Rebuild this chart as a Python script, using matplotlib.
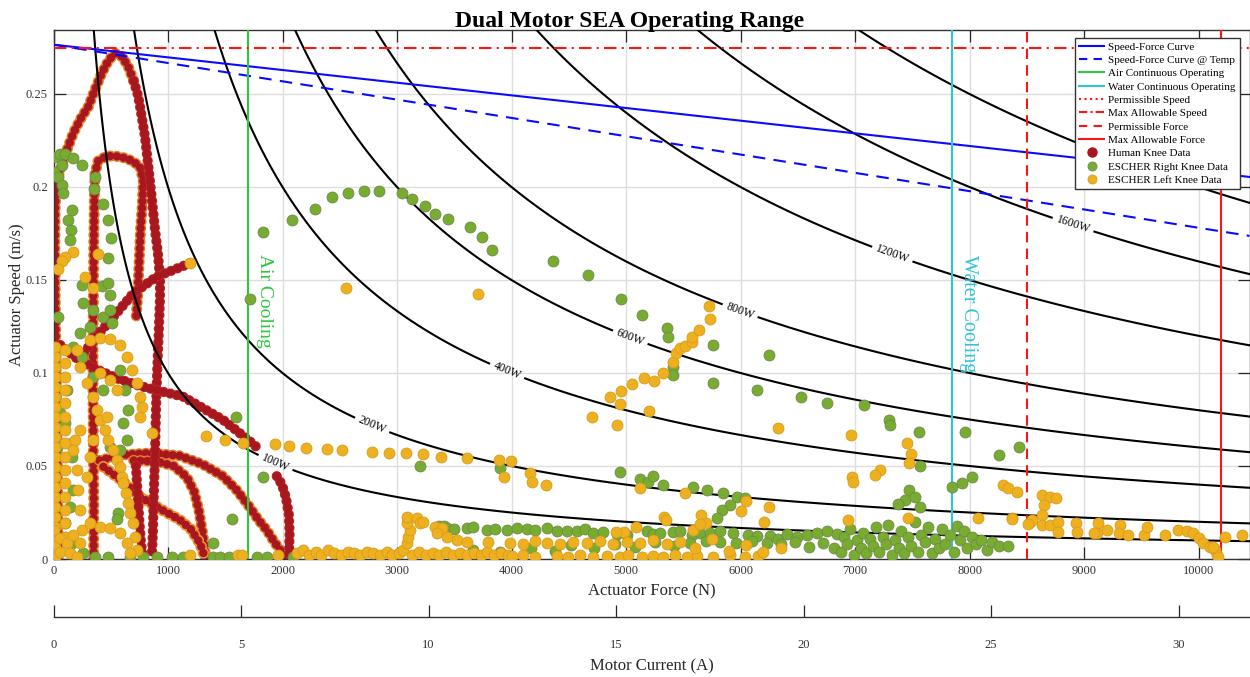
import numpy as np
import matplotlib
matplotlib.use("Agg")
import matplotlib.pyplot as plt
import matplotlib.patheffects as pe
from matplotlib.lines import Line2D

plt.rcParams['font.family'] = ['Liberation Serif', 'DejaVu Serif']

# ---------------------------------------------------------------- limits
force_max = 10445          # N
speed_max = 0.2844         # m/s
current_max = 31.89        # A

# ---------------------------------------------------------------- actuator limits
speed_force_curve_F = [0, 10445]
speed_force_curve_v = [0.2765, 0.2054]
speed_force_temp_F = [0, 10445]
speed_force_temp_v = [0.2765, 0.1737]
permissible_speed = 0.300          # above the plotted speed range
max_allowable_speed = 0.2747
air_cooling_force = 1700
water_cooling_force = 7850
permissible_force = 8500
max_allowable_force = 10200

power_levels = [100, 200, 400, 600, 800, 1200, 1600, 2000]
power_label_spots = [(1937, 0.0516), (2782, 0.0719), (3961, 0.1010), (5035, 0.1188),
                     (5996, 0.1334), (7325, 0.1638), (8904, 0.1797)]

current_ticks = [0, 5, 10, 15, 20, 25, 30]
force_ticks = [0, 1000, 2000, 3000, 4000, 5000, 6000, 7000, 8000, 9000, 10000]
speed_ticks = [0, 0.05, 0.1, 0.15, 0.2, 0.25]
speed_tick_labels = ['0', '0.05', '0.1', '0.15', '0.2', '0.25']

# ---------------------------------------------------------------- human knee trajectories (F [N], v [m/s])
human_outer_rise = [(40, 0.0), (38, 0.02), (33, 0.05), (28, 0.08), (22, 0.11), (15, 0.14), (12, 0.17),
                    (15, 0.19), (30, 0.203), (58, 0.209), (100, 0.217), (173, 0.229), (240, 0.237),
                    (304, 0.2432), (360, 0.252), (421, 0.2611), (480, 0.268), (537, 0.2719),
                    (600, 0.270), (653, 0.2647), (700, 0.257)]
human_outer_fall = [(700, 0.257), (741, 0.2486), (770, 0.238), (799, 0.227), (830, 0.21), (857, 0.1948),
                    (885, 0.178), (915, 0.1625), (930, 0.15), (930, 0.14), (918, 0.12), (905, 0.10),
                    (895, 0.08), (886, 0.055), (876, 0.035), (868, 0.015), (860, 0.002)]
human_inner_loop = [(350, 0.0), (352, 0.03), (348, 0.06), (345, 0.09), (345, 0.12), (348, 0.139),
                    (352, 0.17), (357, 0.195), (362, 0.207), (390, 0.214), (465, 0.2167), (550, 0.2165),
                    (639, 0.2154), (700, 0.2135), (755, 0.2109), (784, 0.2038), (775, 0.19),
                    (760, 0.177), (748, 0.16), (735, 0.141), (722, 0.13)]
human_rising_diag = [(230, 0.108), (380, 0.120), (520, 0.130), (697, 0.1428), (901, 0.1518),
                     (1047, 0.1554), (1192, 0.159)]
human_descent = [(60, 0.115), (200, 0.108), (377, 0.102), (560, 0.097), (755, 0.093), (950, 0.090),
                 (1131, 0.0873), (1280, 0.082), (1483, 0.0747), (1620, 0.068), (1720, 0.063),
                 (1803, 0.0586)]
human_arc_long = [(400, 0.053), (600, 0.056), (850, 0.057), (1100, 0.0555), (1300, 0.051),
                  (1480, 0.0445), (1600, 0.037), (1700, 0.029), (1790, 0.021), (1862, 0.0156),
                  (1930, 0.009), (1990, 0.004), (2037, 0.0)]
human_arc_short = [(700, 0.053), (900, 0.0525), (1050, 0.050), (1165, 0.044), (1230, 0.036),
                   (1270, 0.026), (1300, 0.015), (1320, 0.006), (1330, 0.0)]
human_slope = [(435, 0.0496), (600, 0.042), (755, 0.0335), (930, 0.027), (1105, 0.021),
               (1200, 0.016), (1280, 0.0084), (1310, 0.003)]
human_hook = [(1950, 0.0445), (1995, 0.040), (2030, 0.033), (2055, 0.024), (2062, 0.014),
              (2058, 0.005), (2050, 0.0)]
human_drop = [(720, 0.050), (735, 0.035), (750, 0.020), (765, 0.008), (785, 0.0)]

# ---------------------------------------------------------------- ESCHER right knee (F [N], v [m/s])
right_knee_upper = [(1716, 0.140), (1830, 0.1758), (2083, 0.182), (2280, 0.188), (2430, 0.1948),
                    (2570, 0.197), (2710, 0.198), (2840, 0.198), (3040, 0.197), (3135, 0.1935),
                    (3245, 0.190), (3330, 0.1853), (3445, 0.1828), (3640, 0.1785), (3745, 0.1731),
                    (3830, 0.166), (4365, 0.160), (4670, 0.1527), (4955, 0.1398), (5140, 0.1312),
                    (5360, 0.1242), (5365, 0.1194), (5760, 0.115), (5410, 0.1032), (5410, 0.099),
                    (5760, 0.0946), (6250, 0.1097), (6140, 0.0909), (6530, 0.0871), (6755, 0.0839),
                    (7080, 0.0828), (7295, 0.0747), (7305, 0.072), (7560, 0.0683), (7570, 0.050),
                    (7960, 0.0683), (8260, 0.056), (8430, 0.0602), (7850, 0.0387), (7935, 0.041),
                    (8020, 0.0441), (7470, 0.037), (7435, 0.0317), (7375, 0.0296), (7525, 0.0333),
                    (7570, 0.028)]
right_knee_mid = [(1594, 0.0763), (1830, 0.044), (1558, 0.0215), (1396, 0.0086), (3200, 0.050),
                  (3900, 0.049), (4945, 0.0467), (5125, 0.043), (5195, 0.0414), (5235, 0.0446),
                  (5320, 0.0398), (5585, 0.0387), (5705, 0.0371), (5845, 0.0355), (5965, 0.0333),
                  (5910, 0.029), (5840, 0.0263), (5795, 0.022), (6040, 0.033)]
right_knee_left = [(13, 0.2163), (57, 0.218), (100, 0.2177), (167, 0.2154), (246, 0.2118), (0, 0.208),
                   (72, 0.2118), (42, 0.2055), (72, 0.201), (86, 0.1966), (159, 0.1876), (130, 0.1823),
                   (150, 0.1769), (144, 0.1715), (362, 0.2055), (357, 0.1987), (430, 0.1907),
                   (479, 0.1823), (500, 0.1724), (473, 0.162), (246, 0.1473), (421, 0.1468),
                   (479, 0.1482), (494, 0.1419), (261, 0.1375), (348, 0.1339), (435, 0.1303),
                   (493, 0.1339), (508, 0.1267), (319, 0.1249), (231, 0.1213), (173, 0.1142),
                   (246, 0.1088), (348, 0.098), (435, 0.0909), (581, 0.1016), (624, 0.0909),
                   (653, 0.0801), (610, 0.0729), (639, 0.064), (581, 0.0586), (493, 0.0604),
                   (115, 0.0909), (100, 0.0729), (159, 0.0622), (159, 0.055), (173, 0.0371),
                   (144, 0.0281), (100, 0.0192), (159, 0.0084), (261, 0.003), (362, 0.0013),
                   (479, 0.0013), (566, 0.0246), (668, 0.0013), (785, 0.0013), (57, 0.0783),
                   (553, 0.0215), (40, 0.13), (30, 0.06)]
right_knee_floor = [(905, 0.0013), (1035, 0.0013), (1131, 0.0013), (1393, 0.0013), (1454, 0.0013),
                    (1530, 0.0013), (1777, 0.0013), (1865, 0.0013), (2092, 0.0013)]
right_knee_band = [(3370, 0.0175), (3410, 0.0178), (3440, 0.0168), (3500, 0.0160),
                   (3609, 0.0165), (3667, 0.017), (3783, 0.0158), (3856, 0.0162), (3958, 0.0155),
                   (4045, 0.0165), (4133, 0.0160), (4205, 0.0158), (4307, 0.0166), (4395, 0.0152),
                   (4482, 0.0148), (4569, 0.0150), (4642, 0.0160), (4715, 0.0140), (4802, 0.0143),
                   (4919, 0.0135), (5006, 0.0130), (5181, 0.0150), (5238, 0.0132), (5297, 0.0142),
                   (5413, 0.0145), (5472, 0.0150), (5574, 0.0128), (5646, 0.0138), (5734, 0.0142),
                   (5821, 0.0150), (5937, 0.0140), (6068, 0.0130), (6142, 0.0125), (6258, 0.0125),
                   (6330, 0.0110), (6404, 0.0135), (6491, 0.0120), (6578, 0.0128), (6666, 0.0140),
                   (6753, 0.0150), (6840, 0.0135),
                   (3660, 0.005), (3900, 0.004), (4170, 0.006), (4380, 0.0045), (4520, 0.0075),
                   (4720, 0.006), (4900, 0.0082), (5080, 0.0065), (5250, 0.009), (5420, 0.007),
                   (5560, 0.0085), (5700, 0.0095), (5820, 0.009), (5960, 0.0088), (6100, 0.0095),
                   (6230, 0.0085), (6350, 0.0078), (6480, 0.0090), (6600, 0.0065), (6720, 0.0088),
                   (6820, 0.006)]
right_knee_cluster = [(6880, 0.004), (6900, 0.012), (6930, 0.008), (6960, 0.016), (6990, 0.002),
                      (7020, 0.010), (7050, 0.006), (7070, 0.014), (7100, 0.003), (7130, 0.011),
                      (7160, 0.007), (7180, 0.017), (7210, 0.004), (7240, 0.012), (7270, 0.008),
                      (7290, 0.0185), (7320, 0.002), (7350, 0.010), (7380, 0.006), (7400, 0.015),
                      (7430, 0.003), (7460, 0.012), (7490, 0.007), (7520, 0.020), (7550, 0.004),
                      (7580, 0.013), (7610, 0.009), (7640, 0.017), (7670, 0.003), (7700, 0.011),
                      (7730, 0.006), (7760, 0.016), (7790, 0.008), (7830, 0.013), (7860, 0.004),
                      (7890, 0.018), (7920, 0.010), (7950, 0.015), (7980, 0.006), (8020, 0.012),
                      (8060, 0.008), (8100, 0.010), (8150, 0.005), (8200, 0.009), (8260, 0.007),
                      (8335, 0.007)]

# ---------------------------------------------------------------- ESCHER left knee (F [N], v [m/s])
left_knee_row = [(1332, 0.066), (1498, 0.064), (1655, 0.0625), (1935, 0.0618), (2060, 0.0608),
                 (2205, 0.0597), (2390, 0.059), (2520, 0.0586), (2780, 0.0575), (2930, 0.057),
                 (3080, 0.057), (3230, 0.0565), (3385, 0.055), (3615, 0.0543), (3890, 0.0532),
                 (3995, 0.0527), (4160, 0.046), (3935, 0.0441), (4180, 0.0414), (4300, 0.0398),
                 (858, 0.068)]
left_knee_upper = [(2555, 0.1457), (3705, 0.1425), (1192, 0.159), (173, 0.1652), (100, 0.1625),
                   (72, 0.160), (42, 0.1557), (391, 0.164), (275, 0.1514), (348, 0.1455)]
left_knee_diag = [(4705, 0.0763), (4925, 0.072), (4950, 0.0833), (4860, 0.0871), (4960, 0.0903),
                  (5055, 0.094), (5160, 0.0973), (5245, 0.0957), (5325, 0.100), (5410, 0.1059),
                  (5440, 0.1108), (5475, 0.1134), (5515, 0.1145), (5575, 0.1167), (5575, 0.1194),
                  (5640, 0.1231), (5735, 0.129), (5725, 0.136), (5200, 0.0796), (6330, 0.0704)]
left_knee_mid = [(6250, 0.028), (6205, 0.020), (6050, 0.031), (6000, 0.026), (5655, 0.0237),
                 (5700, 0.0193), (5330, 0.0226), (5350, 0.021), (5515, 0.0355), (5125, 0.038),
                 (5085, 0.0172), (4985, 0.0145), (4915, 0.0145), (5585, 0.0156), (5650, 0.019)]
left_knee_right = [(6965, 0.0667), (7450, 0.0624), (7490, 0.0565), (7475, 0.0516), (7220, 0.048),
                   (7175, 0.045), (6975, 0.0441), (6985, 0.0414), (6940, 0.021), (7465, 0.022),
                   (8075, 0.022), (8295, 0.0398), (8335, 0.038), (8415, 0.036), (8375, 0.022),
                   (8530, 0.020), (8630, 0.0344), (8700, 0.0333), (8755, 0.0328), (8650, 0.029),
                   (8630, 0.0237), (8630, 0.0183), (8700, 0.0183), (8770, 0.020), (8770, 0.0145),
                   (8930, 0.0194), (8940, 0.0145), (9120, 0.0194), (9110, 0.014), (9200, 0.0156),
                   (9315, 0.0183), (9305, 0.014), (9385, 0.0129), (9525, 0.0129), (9550, 0.0172),
                   (9710, 0.0129), (9820, 0.0156), (9900, 0.0151), (9955, 0.014), (10000, 0.0113),
                   (10040, 0.0086), (10100, 0.0065), (10145, 0.0048), (10160, 0.0022),
                   (10170, 0.001), (10130, 0.0065), (10230, 0.012), (10380, 0.0129), (9090, 0.014),
                   (8545, 0.021), (8510, 0.0188), (8370, 0.0215)]
left_knee_floor = [(1192, 0.002), (1612, 0.002), (1646, 0.002), (1961, 0.002),
                   (2130, 0.003), (2180, 0.005), (2230, 0.002), (2290, 0.004), (2340, 0.002),
                   (2400, 0.005), (2450, 0.003), (2510, 0.002), (2570, 0.004), (2620, 0.003),
                   (2680, 0.002), (2740, 0.004), (2790, 0.003), (2850, 0.002), (2910, 0.004),
                   (2960, 0.002), (3020, 0.003), (3130, 0.002), (3190, 0.004), (3250, 0.002),
                   (3310, 0.003), (3370, 0.002), (3430, 0.004), (3490, 0.002), (3550, 0.003),
                   (3610, 0.002), (3670, 0.003), (3730, 0.002), (3790, 0.004), (3850, 0.002),
                   (3910, 0.003), (3970, 0.002),
                   (3055, 0.0048), (3085, 0.0084), (3099, 0.012), (3114, 0.0156), (3085, 0.0192),
                   (3085, 0.0228), (3172, 0.0219), (3201, 0.0192), (3230, 0.020), (3332, 0.0174),
                   (3390, 0.0165), (3347, 0.0138), (3434, 0.012), (3521, 0.0102), (3609, 0.0093),
                   (3798, 0.0089), (3987, 0.0084),
                   (4002, 0.0015), (4104, 0.0020), (4205, 0.0013), (4395, 0.0018), (4497, 0.0013),
                   (4599, 0.0020), (4715, 0.0013), (4831, 0.0018), (4948, 0.0013), (5020, 0.0020),
                   (5137, 0.0013), (5238, 0.0018), (5326, 0.0013), (5428, 0.0020), (5530, 0.0013),
                   (5617, 0.0018), (5763, 0.0013), (5908, 0.0020), (6039, 0.0013), (6156, 0.0018),
                   (4104, 0.0082), (4205, 0.0095), (4307, 0.0088), (4424, 0.0080), (4540, 0.0092),
                   (4657, 0.0085), (4773, 0.0095), (4890, 0.0080), (5006, 0.0090), (5122, 0.0086),
                   (5238, 0.0100), (5355, 0.0083), (5472, 0.0092),
                   (5600, 0.006), (5750, 0.0105), (5900, 0.0045), (6050, 0.0075), (6200, 0.004),
                   (6350, 0.006)]
left_knee_left = [(13, 0.1142), (13, 0.1088), (13, 0.1034), (13, 0.098), (13, 0.0926), (13, 0.0873),
                  (13, 0.0819), (13, 0.0765), (13, 0.0711), (13, 0.0658), (13, 0.0604), (13, 0.055),
                  (13, 0.0496), (13, 0.0443), (13, 0.0389), (13, 0.0335), (13, 0.0281), (13, 0.0228),
                  (13, 0.0174), (13, 0.012), (13, 0.0066), (13, 0.0013),
                  (100, 0.1124), (100, 0.1052), (100, 0.098), (100, 0.0909), (100, 0.0837),
                  (100, 0.0765), (100, 0.0694), (100, 0.0622), (100, 0.055), (100, 0.0478),
                  (100, 0.0407), (100, 0.0335), (100, 0.0263), (100, 0.0192), (100, 0.012),
                  (319, 0.1177), (406, 0.1186), (493, 0.1181), (581, 0.1151), (639, 0.1088),
                  (683, 0.1016), (726, 0.0944), (755, 0.0873), (770, 0.0819), (755, 0.0765),
                  (202, 0.1124), (231, 0.1034), (290, 0.0944), (348, 0.0873), (377, 0.0801),
                  (406, 0.0747), (450, 0.0694), (479, 0.064), (523, 0.0586), (552, 0.0532),
                  (581, 0.0496), (596, 0.0443), (610, 0.0407), (634, 0.0353), (653, 0.0299),
                  (668, 0.0246), (692, 0.0192), (712, 0.012), (726, 0.0048),
                  (231, 0.0694), (188, 0.064), (173, 0.0586), (202, 0.0478), (217, 0.0371),
                  (231, 0.0263), (246, 0.0156), (290, 0.0443), (319, 0.055), (348, 0.064),
                  (0, 0.0156), (57, 0.0111), (115, 0.0084), (173, 0.0129), (231, 0.0084),
                  (57, 0.0039), (144, 0.003), (202, 0.0013), (319, 0.0192), (406, 0.0174),
                  (493, 0.0165), (581, 0.0138), (639, 0.0084), (668, 0.003),
                  (406, 0.0998), (493, 0.0962), (552, 0.0909), (465, 0.0765)]

# ---------------------------------------------------------------- colours
blue = '#0a0aff'
red = '#ff1414'
air_green = '#2cc83c'
water_cyan = '#2cc6d6'
human_fill = '#a8161f'
right_fill = '#77ac30'
left_fill = '#edb120'

# ---------------------------------------------------------------- figure
W, H = 1250, 677
fig = plt.figure(figsize=(W / 100, H / 100), dpi=100)
ax_l, ax_r, ax_t, ax_b = 53.5, 1249.5, 30, 559
ax = fig.add_axes([ax_l / W, 1 - ax_b / H, (ax_r - ax_l) / W, (ax_b - ax_t) / H])
ax.set_xlim(0, force_max)
ax.set_ylim(0, speed_max)


def chain(points, edge, rim=7.4, z=2):
    F, v = zip(*points)
    ax.plot(F, v, color=human_fill, lw=6.0, ls=(0, (0.01, 0.8)), dash_capstyle='round',
            zorder=z, path_effects=[pe.Stroke(linewidth=rim, foreground=edge), pe.Normal()])


# human knee trajectories (dense dot chains)
for path in (human_outer_rise, human_inner_loop, human_arc_long, human_arc_short):
    chain(path, '#e2802c', rim=8.0)
chain(human_slope, '#ee8f2c', rim=8.4)
for path in (human_outer_fall, human_rising_diag, human_descent, human_hook, human_drop):
    chain(path, '#b82a22')

# constant power contours
Fg = np.linspace(1, 10600, 900)
vg = np.linspace(0.0002, 0.30, 900)
FF, VV = np.meshgrid(Fg, vg)
cs = ax.contour(FF, VV, FF * VV, levels=power_levels, colors='k', linewidths=1.5, zorder=3)
ax.clabel(cs, levels=power_levels[:-1], fmt=lambda p: f'{p:.0f}W', manual=power_label_spots,
          fontsize=8.5, inline=True, inline_spacing=4)

# actuator limits
ax.plot(speed_force_curve_F, speed_force_curve_v, color=blue, lw=1.5, zorder=3)
ax.plot(speed_force_temp_F, speed_force_temp_v, color=blue, lw=1.5, ls=(0, (6, 4)), zorder=3)
ax.axvline(air_cooling_force, color=air_green, lw=1.5, zorder=3)
ax.axvline(water_cooling_force, color=water_cyan, lw=1.5, zorder=3)
ax.axhline(permissible_speed, color=red, lw=1.5, ls=':', zorder=3)
ax.axhline(max_allowable_speed, color=red, lw=1.5, ls=(0, (6, 2.5, 1, 2.5)), zorder=3)
ax.axvline(permissible_force, color=red, lw=1.5, ls=(0, (5, 3)), zorder=3)
ax.axvline(max_allowable_force, color=red, lw=1.5, zorder=3)

ax.text(1840, 0.139, 'Air Cooling', rotation=-90, color=air_green, fontsize=14,
        ha='center', va='center', zorder=3)
ax.text(7990, 0.1317, 'Water Cooling', rotation=-90, color=water_cyan, fontsize=14.5,
        ha='center', va='center', zorder=3)

# ESCHER measurements
right_pts = right_knee_upper + right_knee_mid + right_knee_left + right_knee_floor + right_knee_band + right_knee_cluster
left_pts = left_knee_row + left_knee_upper + left_knee_diag + left_knee_mid + left_knee_right + left_knee_floor + left_knee_left
ax.scatter(*zip(*right_pts), s=62, c=right_fill, edgecolors='#6f8a4c', linewidths=0.6, zorder=4)
ax.scatter(*zip(*left_pts), s=62, c=left_fill, edgecolors='#d99b1c', linewidths=0.6, zorder=5)

# axes styling
ax.set_xticks(force_ticks)
ax.set_xticklabels([str(t) for t in force_ticks])
ax.set_yticks(speed_ticks)
ax.set_yticklabels(speed_tick_labels)
ax.tick_params(direction='in', length=8.5, width=0.9, top=True, right=True, labelsize=9,
               labelcolor='#333333', color='#262626', pad=4)
ax.grid(True, color='#dedede', lw=1.0)
ax.set_axisbelow(True)
for s in ax.spines.values():
    s.set_color('#333333')
    s.set_linewidth(1.0)
ax.set_xlabel('Actuator Force (N)', fontsize=12, color='#262626', labelpad=5)
ax.set_ylabel('Actuator Speed (m/s)', fontsize=12, color='#262626', labelpad=1)
title = ax.set_title('Dual Motor SEA Operating Range', fontsize=17, fontweight='bold', pad=2)
title.set_x((630 - ax_l) / (ax_r - ax_l))

handles = [
    Line2D([], [], color=blue, lw=1.5),
    Line2D([], [], color=blue, lw=1.5, ls=(0, (4, 3))),
    Line2D([], [], color=air_green, lw=1.5),
    Line2D([], [], color=water_cyan, lw=1.5),
    Line2D([], [], color=red, lw=1.5, ls=':'),
    Line2D([], [], color=red, lw=1.5, ls=(0, (4, 1.5, 1, 1.5))),
    Line2D([], [], color=red, lw=1.5, ls=(0, (4, 3))),
    Line2D([], [], color=red, lw=1.5),
    Line2D([], [], ls='none', marker='o', ms=6.5, mfc=human_fill, mec=human_fill),
    Line2D([], [], ls='none', marker='o', ms=6.5, mfc=right_fill, mec='#6f8a4c', mew=0.6),
    Line2D([], [], ls='none', marker='o', ms=6.5, mfc=left_fill, mec='#d99b1c', mew=0.6),
]
labels = ['Speed-Force Curve', 'Speed-Force Curve @ Temp', 'Air Continuous Operating',
          'Water Continuous Operating', 'Permissible Speed', 'Max Allowable Speed',
          'Permissible Force', 'Max Allowable Force', 'Human Knee Data',
          'ESCHER Right Knee Data', 'ESCHER Left Knee Data']
leg = ax.legend(handles, labels, loc='upper left', bbox_to_anchor=((1075 - ax_l) / (ax_r - ax_l),
                (ax_b - 38) / (ax_b - ax_t)), borderaxespad=0, fontsize=8, labelspacing=0.32,
                handlelength=2.3, handletextpad=0.35, borderpad=0.35, fancybox=False,
                framealpha=1, edgecolor='#333333')
leg.get_frame().set_linewidth(1.0)
leg.set_zorder(10)

# motor current scale
ax2 = fig.add_axes([ax_l / W, 1 - 617 / H, (ax_r - ax_l) / W, 1e-4])
ax2.set_xlim(0, current_max)
ax2.set_ylim(0, 1)
ax2.patch.set_visible(False)
for side in ('top', 'left', 'right'):
    ax2.spines[side].set_visible(False)
ax2.spines['bottom'].set_color('#333333')
ax2.spines['bottom'].set_linewidth(1.0)
ax2.set_yticks([])
ax2.set_xticks(current_ticks)
ax2.set_xticklabels([str(t) for t in current_ticks])
ax2.tick_params(direction='in', length=8.5, width=0.9, labelsize=9, labelcolor='#333333',
                color='#262626', pad=16)
ax2.set_xlabel('Motor Current (A)', fontsize=12, color='#262626', labelpad=5)

fig.savefig('out.png', dpi=100)
